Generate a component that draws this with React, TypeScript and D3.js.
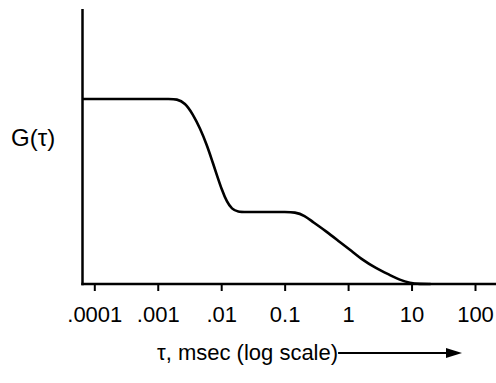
import React, { useEffect, useRef } from "react";
import * as d3 from "d3";

// tick values (msec) and their printed labels
const tickValues = [0.0001, 0.001, 0.01, 0.1, 1, 10, 100];
const tickLabels = [".0001", ".001", ".01", "0.1", "1", "10", "100"];

// autocorrelation curve
const tau = [
  0.000065, 0.0001, 0.0003, 0.0006, 0.001, 0.0015, 0.002, 0.00268, 0.00358,
  0.00462, 0.00596, 0.00714, 0.00855, 0.01026, 0.0123, 0.01472, 0.0183, 0.025,
  0.04, 0.07, 0.1, 0.145, 0.208, 0.278, 0.446, 0.74, 1.14, 1.7, 2.73,
  4.54, 6.52, 9.4, 13.5, 20,
];
const gVals = [
  1, 1, 1, 1, 1, 1, 1, 0.98, 0.918,
  0.843, 0.751, 0.67, 0.589, 0.508, 0.443, 0.405, 0.389, 0.389,
  0.389, 0.389, 0.389, 0.389, 0.37, 0.335, 0.286, 0.227, 0.178, 0.13, 0.086,
  0.049, 0.022, 0.005, 0, 0,
];

const W = 496;
const H = 383;
const FONT = "'Liberation Sans', Arial, Helvetica, sans-serif";

export default function App() {
  const ref = useRef<SVGSVGElement>(null);

  useEffect(() => {
    const svg = d3.select(ref.current);
    svg.selectAll("*").remove();

    const x = d3.scaleLog().domain([0.0001, 100]).range([94.3, 475]);
    const y = d3.scaleLinear().domain([0, 1]).range([284, 99]);
    const x0 = 82.5;

    // axes lines
    svg.append("line")
      .attr("x1", x0).attr("x2", x0)
      .attr("y1", 9).attr("y2", y(0) + 1.2)
      .attr("stroke", "#000").attr("stroke-width", 2.5);
    svg.append("line")
      .attr("x1", x0 - 1.2).attr("x2", W)
      .attr("y1", y(0)).attr("y2", y(0))
      .attr("stroke", "#000").attr("stroke-width", 2.5);

    const ax = svg.append("g")
      .attr("transform", `translate(0,${y(0)})`)
      .call(
        d3.axisBottom(x)
          .tickValues(tickValues)
          .tickSize(7)
          .tickSizeOuter(0)
          .tickFormat((d, i) => tickLabels[i])
      );
    ax.select(".domain").remove();
    ax.selectAll(".tick line").attr("stroke", "#000").attr("stroke-width", 2);
    ax.selectAll(".tick text")
      .attr("font-family", FONT)
      .attr("font-size", 22)
      .attr("fill", "#000")
      .attr("dy", 0)
      .attr("y", 38);

    // the curve
    const pts: [number, number][] = tau.map((t, i) => [t, gVals[i]]);
    svg.append("path")
      .datum(pts)
      .attr("fill", "none")
      .attr("stroke", "#000")
      .attr("stroke-width", 2.6)
      .attr("stroke-linejoin", "round")
      .attr("d", d3.line<[number, number]>()
        .x(d => Math.max(x0, x(d[0])))
        .y(d => y(d[1]))
        .curve(d3.curveBasis));

    // y label
    svg.append("text")
      .attr("x", 11).attr("y", 146)
      .attr("font-family", FONT).attr("font-size", 24)
      .text("G(\u03c4)");

    // x label with arrow
    const lbl = svg.append("text")
      .attr("x", 157).attr("y", 360)
      .attr("font-family", FONT).attr("font-size", 22)
      .text("\u03c4, msec (log scale)");
    const bb = (lbl.node() as SVGTextElement).getBBox();
    const ax1 = bb.x + bb.width;
    svg.append("line")
      .attr("x1", ax1).attr("x2", 450)
      .attr("y1", 353).attr("y2", 353)
      .attr("stroke", "#000").attr("stroke-width", 2);
    svg.append("path")
      .attr("d", "M446,348 L462,353 L446,358 Z")
      .attr("fill", "#000");
  }, []);

  return (
    <svg
      ref={ref}
      width={W}
      height={H}
      style={{ position: "absolute", left: 0, top: 0, background: "#fff" }}
    />
  );
}
